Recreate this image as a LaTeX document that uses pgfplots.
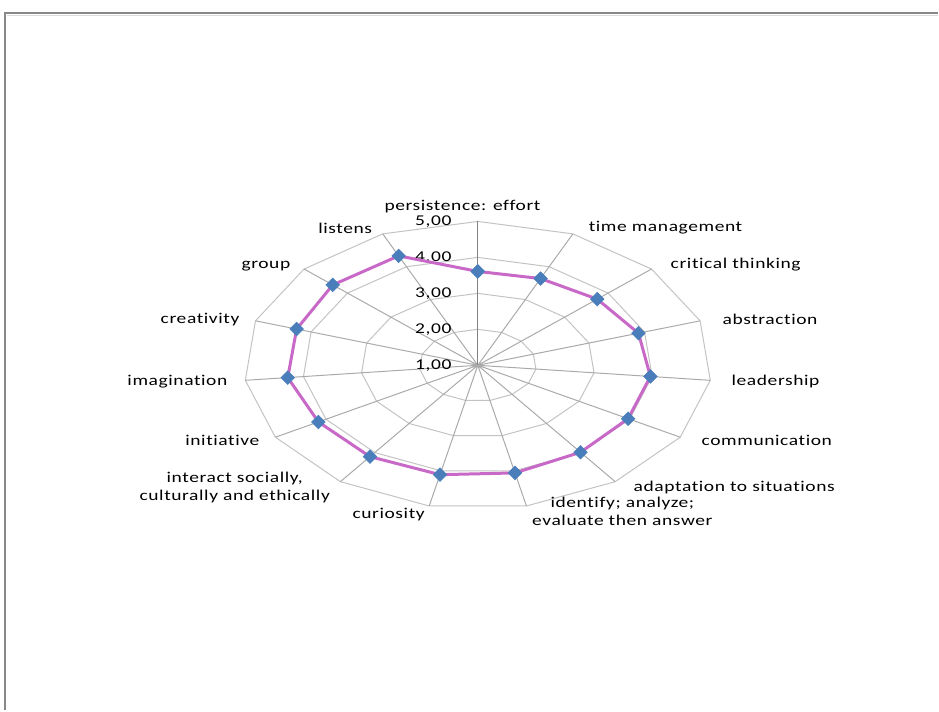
\documentclass[border=0pt]{standalone}
\usepackage{fontspec}
\setmainfont{Carlito}[FakeStretch=1.3, LetterSpace=4, Ligatures={NoCommon}]
\usepackage{pgfplots}
\pgfplotsset{compat=1.18}
\usepackage{pgfplotstable}

\definecolor{ringgray}{RGB}{195,195,195}
\definecolor{spokegray}{RGB}{170,170,170}
\definecolor{axisgray}{RGB}{130,130,130}
\definecolor{framegray}{RGB}{135,135,135}
\definecolor{scoreline}{RGB}{200,105,200}
\definecolor{scoremark}{RGB}{74,126,187}

% mean score per competence, angle in degrees (clockwise from the top)
\pgfplotstableread{
ang val
90 3.61
66 3.64
42 3.75
18 3.89
-6 3.97
-30 3.97
-54 3.99
-78 4.06
-102 4.11
-126 4.14
-150 4.15
-174 4.27
-198 4.26
-222 4.34
-246 4.33
90 3.61
}\scores

% category directions, closed for the grid polygons
\pgfplotstableread{
ang one
90 1
66 1
42 1
18 1
-6 1
-30 1
-54 1
-78 1
-102 1
-126 1
-150 1
-174 1
-198 1
-222 1
-246 1
90 1
}\dirs

% spokes (the vertical one is drawn separately as the value axis)
\pgfplotstableread{
ang r
66 0
66 4
66 nan
42 0
42 4
42 nan
18 0
18 4
18 nan
-6 0
-6 4
-6 nan
-30 0
-30 4
-30 nan
-54 0
-54 4
-54 nan
-78 0
-78 4
-78 nan
-102 0
-102 4
-102 nan
-126 0
-126 4
-126 nan
-150 0
-150 4
-150 nan
-174 0
-174 4
-174 nan
-198 0
-198 4
-198 nan
-222 0
-222 4
-222 nan
-246 0
-246 4
}\spokes

\begin{document}
\begin{tikzpicture}
\fontsize{7.5}{9}\selectfont
\begin{axis}[
  scale only axis,
  width=469.5pt, height=355.5pt,
  xmin=-8.176, xmax=7.875,
  ymin=-9.592, ymax=10.158,
  hide axis, clip=false,
  unbounded coords=jump,
  every node/.append style={font=\fontsize{7.5}{9}\selectfont, inner sep=1pt},
]
% page frame
\draw[draw=none] (rel axis cs:0,0) rectangle (rel axis cs:1,1);
\draw[framegray, line width=1pt]
  (rel axis cs:0.00586,0) -- (rel axis cs:0.00586,0.981) -- (rel axis cs:1,0.981);
\draw[ringgray!60, line width=0.5pt]
  (rel axis cs:0.0075,0.9785) -- (rel axis cs:1,0.9785);

% grid polygons at 2,00 ... 5,00
\pgfplotsinvokeforeach{1,2,3,4}{
  \addplot[ringgray, line width=0.5pt, mark=none]
    table[x expr={#1*cos(\thisrow{ang})}, y expr={#1*sin(\thisrow{ang})}] {\dirs};
}
% spokes
\addplot[spokegray, line width=0.5pt, mark=none]
  table[x expr={\thisrow{r}*cos(\thisrow{ang})}, y expr={\thisrow{r}*sin(\thisrow{ang})}] {\spokes};
\addplot[axisgray, line width=0.5pt, mark=none] coordinates {(0,0) (0,4)};

% value labels
\node[anchor=east] at (axis cs:-0.36,0) {1,00};
\node[anchor=east] at (axis cs:-0.36,1) {2,00};
\node[anchor=east] at (axis cs:-0.36,2) {3,00};
\node[anchor=east] at (axis cs:-0.36,3) {4,00};
\node[anchor=east] at (axis cs:-0.36,4) {5,00};

% scores
\addplot[scoreline, line width=1.5pt, mark=square*,
  mark size=2.4pt,
  mark options={scoremark, draw=scoremark, rotate=45, line width=0.3pt}]
  table[x expr={(\thisrow{val}-1)*cos(\thisrow{ang})},
        y expr={(\thisrow{val}-1)*sin(\thisrow{ang})}] {\scores};

% category labels
\node[anchor=center] at (axis cs:-0.262,4.408) {persistence: effort};
\node[anchor=west] at (axis cs:1.807,3.825) {time management};
\node[anchor=west] at (axis cs:3.209,2.797) {critical thinking};
\node[anchor=west] at (axis cs:4.097,1.269) {abstraction};
\node[anchor=west] at (axis cs:4.251,-0.453) {leadership};
\node[anchor=west] at (axis cs:3.738,-2.092) {communication};
\node[anchor=west] at (axis cs:2.576,-3.397) {adaptation to situations};
\node[anchor=center, align=center] at (axis cs:2.474,-4.064) {identify; analyze;\\evaluate then answer};
\node[anchor=center] at (axis cs:-1.526,-4.147) {curiosity};
\node[anchor=center, align=center] at (axis cs:-4.159,-3.397) {interact socially,\\culturally and ethically};
\node[anchor=east] at (axis cs:-3.646,-2.092) {initiative};
\node[anchor=east] at (axis cs:-4.193,-0.453) {imagination};
\node[anchor=east] at (axis cs:-3.988,1.269) {creativity};
\node[anchor=east] at (axis cs:-3.116,2.769) {group};
\node[anchor=east] at (axis cs:-1.716,3.797) {listens};
\end{axis}
\end{tikzpicture}
\end{document}
